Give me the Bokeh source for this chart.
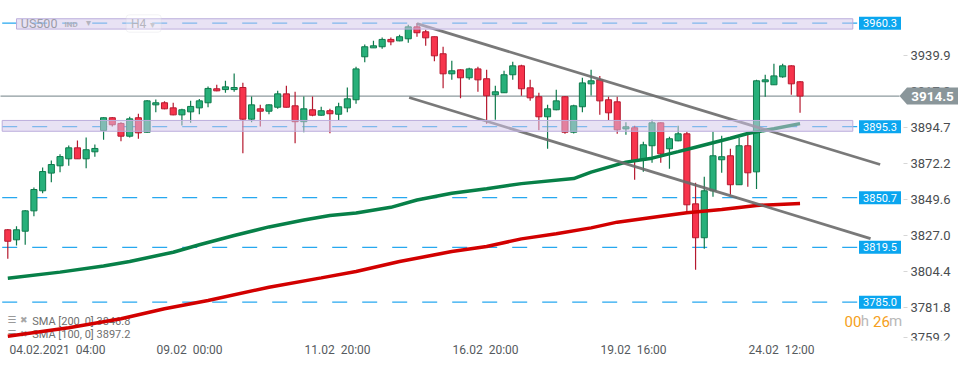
from bokeh.plotting import figure
from bokeh.models import Range1d, FixedTicker, CustomJSTickFormatter, BoxAnnotation
from bokeh.core.properties import value
from bokeh.embed import file_html
from bokeh.resources import INLINE

FONT = "Roboto"

# ---------------- data (US500, H4 candles, 04.02.2021 04:00 onwards) ----------------
candle_open = [3830.5, 3824.2, 3829.6, 3842.4, 3855.0, 3866.1, 3870.7, 3875.1, 3882.0, 3875.1,
               3879.5, 3892.9, 3900.9, 3897.3, 3889.3, 3900.9, 3891.8, 3909.0, 3910.3, 3907.1,
               3902.7, 3904.6, 3907.1, 3910.3, 3919.1, 3918.6, 3918.6, 3919.9, 3900.0, 3906.5,
               3905.0, 3907.5, 3915.9, 3908.4, 3898.4, 3905.9, 3902.5, 3905.3, 3903.1, 3907.1,
               3912.2, 3939.2, 3944.8, 3945.5, 3950.1, 3949.2, 3950.5, 3958.0, 3954.9, 3951.8,
               3941.1, 3928.5, 3931.0, 3926.0, 3931.6, 3925.4, 3915.3, 3916.6, 3927.9, 3933.5,
               3919.7, 3914.1, 3901.5, 3905.9, 3914.1, 3891.8, 3907.8, 3922.2, 3924.7, 3912.2,
               3910.9, 3893.9, 3894.6, 3874.5, 3883.3, 3897.7, 3881.4, 3886.4, 3890.8, 3846.8,
               3825.5, 3855.0, 3874.5, 3877.0, 3858.8, 3883.3, 3866.9, 3923.5, 3921.6, 3926.6,
               3933.5, 3923.5]
candle_high = [3831.0, 3832.8, 3842.9, 3857.1, 3869.6, 3874.0, 3878.0, 3883.5, 3886.6, 3888.5,
               3884.1, 3901.2, 3901.3, 3898.1, 3901.5, 3903.4, 3912.0, 3912.4, 3911.2, 3910.3,
               3906.5, 3911.5, 3912.6, 3920.5, 3921.6, 3924.1, 3928.7, 3922.9, 3914.2, 3909.0,
               3909.3, 3917.8, 3921.0, 3917.2, 3914.2, 3914.2, 3907.8, 3906.5, 3910.3, 3919.9,
               3932.9, 3946.9, 3949.2, 3951.3, 3951.3, 3953.0, 3959.3, 3960.5, 3956.2, 3952.0,
               3945.5, 3936.7, 3931.3, 3932.3, 3932.9, 3931.0, 3921.0, 3930.4, 3936.1, 3934.2,
               3924.7, 3916.6, 3909.0, 3918.5, 3914.5, 3909.0, 3926.0, 3931.0, 3927.2, 3914.1,
               3914.1, 3898.1, 3895.8, 3885.8, 3899.6, 3898.0, 3888.9, 3895.8, 3892.1, 3860.0,
               3863.8, 3892.1, 3889.6, 3881.4, 3888.3, 3890.8, 3924.7, 3927.9, 3934.8, 3934.8,
               3933.8, 3924.0]
candle_low = [3812.3, 3820.6, 3821.1, 3839.0, 3853.5, 3860.4, 3866.7, 3870.7, 3875.1, 3869.2,
              3876.4, 3887.0, 3895.4, 3886.2, 3888.5, 3887.7, 3891.4, 3904.4, 3906.3, 3902.5,
              3896.0, 3897.7, 3903.1, 3907.5, 3917.6, 3916.6, 3917.2, 3878.6, 3898.1, 3895.4,
              3903.1, 3906.5, 3907.3, 3884.9, 3891.8, 3901.9, 3902.1, 3891.2, 3899.4, 3904.4,
              3909.7, 3935.8, 3944.8, 3944.2, 3946.5, 3948.9, 3948.0, 3951.8, 3946.1, 3936.4,
              3919.5, 3924.7, 3913.2, 3924.7, 3917.2, 3897.1, 3899.6, 3916.4, 3924.7, 3914.7,
              3911.5, 3893.1, 3881.4, 3905.6, 3890.8, 3891.0, 3904.4, 3914.9, 3902.7, 3899.4,
              3890.8, 3890.2, 3861.9, 3866.9, 3872.6, 3872.6, 3868.8, 3886.2, 3841.2, 3805.4,
              3818.6, 3851.2, 3866.3, 3852.5, 3858.6, 3857.5, 3856.2, 3914.1, 3921.4, 3926.0,
              3915.3, 3904.0]
candle_close = [3823.3, 3830.5, 3842.4, 3855.8, 3867.1, 3871.5, 3876.5, 3882.0, 3875.1, 3880.8,
                3881.6, 3900.9, 3896.5, 3889.3, 3900.2, 3891.4, 3911.5, 3910.3, 3906.5, 3902.7,
                3905.9, 3908.0, 3911.5, 3919.3, 3917.8, 3920.3, 3919.9, 3900.0, 3909.0, 3905.0,
                3909.0, 3915.9, 3907.5, 3898.4, 3906.5, 3902.5, 3905.3, 3903.4, 3907.8, 3912.8,
                3931.6, 3945.5, 3946.1, 3950.1, 3948.6, 3951.8, 3958.0, 3954.3, 3951.1, 3939.8,
                3928.5, 3930.4, 3926.0, 3931.6, 3924.7, 3914.7, 3917.2, 3927.9, 3933.5, 3919.1,
                3913.4, 3901.5, 3906.5, 3911.5, 3891.8, 3908.4, 3922.8, 3924.1, 3911.5, 3904.0,
                3893.3, 3895.2, 3873.8, 3883.9, 3897.7, 3878.2, 3887.7, 3890.8, 3846.2, 3825.5,
                3855.0, 3877.0, 3876.4, 3858.8, 3883.3, 3866.3, 3924.1, 3924.7, 3927.2, 3933.5,
                3922.2, 3914.5]

sma100_idx = [0, 6, 11, 14, 19, 22, 26, 30, 34, 37, 40, 44, 47, 51, 55, 59, 65, 67, 71, 74,
              77, 79, 83, 85, 88, 91]
sma100_val = [3800.1, 3803.9, 3807.8, 3810.6, 3816.4, 3821.1, 3826.9, 3832.3, 3836.6, 3839.5,
              3841.0, 3844.6, 3849.2, 3853.5, 3856.3, 3859.5, 3862.7, 3866.7, 3873.0, 3875.5,
              3879.6, 3882.4, 3888.0, 3891.0, 3894.0, 3897.2]
sma200_idx = [0, 7, 13, 18, 23, 30, 36, 40, 45, 51, 55, 59, 63, 67, 70, 75, 78, 82, 86, 91]
sma200_val = [3763.6, 3768.9, 3774.6, 3780.9, 3786.1, 3794.4, 3800.3, 3804.3, 3810.6, 3816.8,
              3820.0, 3824.8, 3828.0, 3831.7, 3835.3, 3839.0, 3841.2, 3843.2, 3845.8, 3847.0]

levels = [3960.3, 3895.3, 3850.7, 3819.5, 3785.0]
zone_top = [3963.1, 3899.2]
zone_bottom = [3956.6, 3892.4]
channel_upper_idx = [47.0, 100.2]
channel_upper_val = [3960.0, 3871.5]
channel_lower_idx = [46.1, 99.1]
channel_lower_val = [3913.6, 3825.0]
last_price = 3914.5

x_tick_idx = [0, 17, 34, 51, 68, 85]
x_tick_labels = ["04.02.2021\u00a0 04:00", "09.02\u00a0 00:00", "11.02\u00a0 20:00",
                 "16.02\u00a0 20:00", "19.02\u00a0 16:00", "24.02\u00a0 12:00"]
y_tick_vals = [3939.9, 3917.3, 3894.7, 3872.2, 3849.6, 3827.0, 3804.4, 3781.8, 3759.2]
sma_legend = ["SMA  [200,  0]  3846.8", "SMA  [100,  0]  3897.2"]
symbol, symbol_type, timeframe = "US500", "IND", "H4"
timer_parts = ["00", "h", "26", "m"]

# ---------------- layout helpers (reference pixel -> data) ----------------
X0, DX = 7.3, 8.706          # pixel of candle 0, pixels per candle
V0, K = 3974.56, 1.5916      # price at pixel row 0, pixels per point


def ix(px):
    return (px - X0) / DX


def vy(py):
    return V0 - py / K


FL, FR, FT, FB = 0, 962, 0, 340
AXIS_X = 903                 # pixel column of the price scale

p = figure(frame_width=FR - FL, frame_height=FB - FT,
           x_range=Range1d(ix(FL), ix(FR)), y_range=Range1d(vy(FB), vy(FT)),
           output_backend="svg", toolbar_location=None, title=None,
           y_axis_location="right", x_axis_location="below",
           min_border_left=0, min_border_right=0, min_border_top=0, min_border_bottom=0,
           background_fill_color="white", border_fill_color="white")
p.outline_line_color = None
p.grid.visible = False

pick_js = """
let best = 0;
for (let k = 0; k < pos.length; k++) {
  if (Math.abs(pos[k] - tick) < Math.abs(pos[best] - tick)) best = k;
}
return labels[best];
"""

# x axis: labels start at the tick candle
x_half_px = [49.7, 33.8, 33.8, 33.8, 33.8, 33.8]
x_tick_pos = [i + h / DX for i, h in zip(x_tick_idx, x_half_px)]
xa = p.xaxis[0]
xa.ticker = FixedTicker(ticks=x_tick_pos, minor_ticks=[])
xa.formatter = CustomJSTickFormatter(args=dict(pos=x_tick_pos, labels=x_tick_labels), code=pick_js)
xa.axis_line_color = None
xa.major_tick_line_color = None
xa.minor_tick_line_color = None
xa.major_tick_out = 1
xa.major_tick_in = 0
xa.major_label_standoff = 1
xa.major_label_text_font = FONT
xa.major_label_text_font_size = "12px"
xa.major_label_text_color = "#555a5e"

y_tick_pos = [max(v, vy(FB - 3)) for v in y_tick_vals]
ya = p.yaxis[0]
ya.fixed_location = ix(AXIS_X)
ya.ticker = FixedTicker(ticks=y_tick_pos, minor_ticks=[])
ya.formatter = CustomJSTickFormatter(args=dict(pos=y_tick_pos, labels=[f"{v:.1f}" for v in y_tick_vals]),
                                     code=pick_js)
ya.axis_line_color = None
ya.major_tick_line_color = "#d6d6d6"
ya.minor_tick_line_color = None
ya.major_tick_out = 4
ya.major_tick_in = 0
ya.major_label_standoff = 3
ya.major_label_text_font = FONT
ya.major_label_text_font_size = "13px"
ya.major_label_text_color = "#4a4d50"

# legend texts of the indicators (under the lines)
p.text(x=[ix(31.7)] * 2, y=[vy(321), vy(334)], text=sma_legend, text_font=value(FONT),
       text_font_size="11px", text_color="#6f6f6f", text_align="left", text_baseline="middle")
p.text(x=[ix(7)] * 2, y=[vy(319), vy(333)], text=["\u2630", "\u2630"], text_font=value("DejaVu Sans"),
       text_font_size="10px", text_color="#9a9a9a", text_align="left", text_baseline="middle")
p.text(x=[ix(19.5)] * 2, y=[vy(319), vy(333)], text=["\u2716", "\u2716"], text_font=value("DejaVu Sans"),
       text_font_size="9px", text_color="#a6a6a6", text_align="left", text_baseline="middle")

# current price line
p.segment(x0=[ix(FL - 10)], x1=[ix(899)], y0=[last_price], y1=[last_price],
          line_color="#8d9a9e", line_width=1.3)

# dashed horizontal levels
n = len(levels)
p.segment(x0=[ix(1.7)] * n, x1=[ix(858)] * n, y0=levels, y1=levels,
          line_color="#27a8ef", line_width=1.3, line_dash="15 15")

# candles
idx = list(range(len(candle_open)))
up = [c >= o for o, c in zip(candle_open, candle_close)]
green_fill, green_line = "#27b07a", "#0e7a4c"
red_fill, red_line = "#f7344c", "#b5192f"
wick_col = [green_line if u else red_line for u in up]
p.segment(x0=idx, x1=idx, y0=candle_low, y1=candle_high, line_color=wick_col, line_width=1.2)
p.vbar(x=idx, width=0.7,
       top=[max(o, c) for o, c in zip(candle_open, candle_close)],
       bottom=[min(o, c) for o, c in zip(candle_open, candle_close)],
       fill_color=[green_fill if u else red_fill for u in up],
       line_color=[green_line if u else red_line for u in up], line_width=1)

# moving averages
p.line(sma200_idx, sma200_val, line_color="#d20000", line_width=3.5)
p.line(sma100_idx, sma100_val, line_color="#078048", line_width=3.5)

# channel
p.line(channel_upper_idx, channel_upper_val, line_color="#6a6a6a", line_width=2.8, line_alpha=0.9)
p.line(channel_lower_idx, channel_lower_val, line_color="#6a6a6a", line_width=2.8, line_alpha=0.9)

# zones
p.quad(left=[ix(16), ix(1.7)], right=[ix(852.3)] * 2, top=zone_top, bottom=zone_bottom,
       fill_color="#d2c7ea", fill_alpha=0.52, line_color="#bcaedc", line_width=1)

# level tags
p.rect(x=[ix(879.5)] * n, y=levels, width=42, height=13, width_units="screen", height_units="screen",
       fill_color="#0ba6ef", line_color=None)
p.text(x=[ix(879.5)] * n, y=levels, text=[f"{v:.1f}" for v in levels], text_font=value(FONT),
       text_font_size="11px", text_color="white", text_align="center", text_baseline="middle")

# symbol / timeframe overlay
p.text(x=[ix(20.3)], y=[vy(23.3)], text=[symbol], text_font=value(FONT), text_font_size="12.5px",
       text_color="#9c9ca8", text_align="left", text_baseline="middle")
p.text(x=[ix(64)], y=[vy(24)], text=[symbol_type], text_font=value(FONT), text_font_size="8px",
       text_font_style="bold", text_color="#b0b0ba", text_align="left", text_baseline="middle")
p.text(x=[ix(130.5)], y=[vy(23.5)], text=[timeframe], text_font=value(FONT), text_font_size="12px",
       text_color="#9c9ca8", text_align="left", text_baseline="middle")
p.text(x=[ix(85.5), ix(149.5)], y=[vy(21.8), vy(23.5)], text=["\u25BE", "\u25BE"],
       text_font=value("DejaVu Sans"), text_font_size="10px", text_color="#b4b4be",
       text_align="left", text_baseline="middle")
p.add_layout(BoxAnnotation(left=ix(125.7), right=ix(160.7), top=vy(14.3), bottom=vy(31.7),
                           fill_color="white", fill_alpha=0.25, line_color="#d8d8de", line_width=1,
                           border_radius=3))

# candle timer
p.text(x=[ix(844), ix(860.3), ix(872.5), ix(888.5)], y=[vy(320.5)] * 4, text=timer_parts,
       text_font=value(FONT), text_font_size="15px",
       text_color=["#f5a020", "#b9b9b9", "#f5a020", "#b9b9b9"],
       text_align="left", text_baseline="middle")

# current price tag (arrow-shaped box on the price scale, drawn above the axis labels)
half_h = 8.5 / K
tag = p.patch(x=[ix(899), ix(906.5), ix(957.5), ix(957.5), ix(906.5)],
              y=[last_price, last_price + half_h, last_price + half_h, last_price - half_h,
                 last_price - half_h],
              fill_color="#8a969a", line_color=None)
tag.level = "overlay"
tag_text = p.text(x=[ix(932)], y=[last_price], text=[f"{last_price:.1f}"], text_font=value(FONT),
                  text_font_size="13.5px", text_font_style="bold", text_color="white",
                  text_align="center", text_baseline="middle")
tag_text.level = "overlay"

open("out.html", "w").write(file_html(p, INLINE))
